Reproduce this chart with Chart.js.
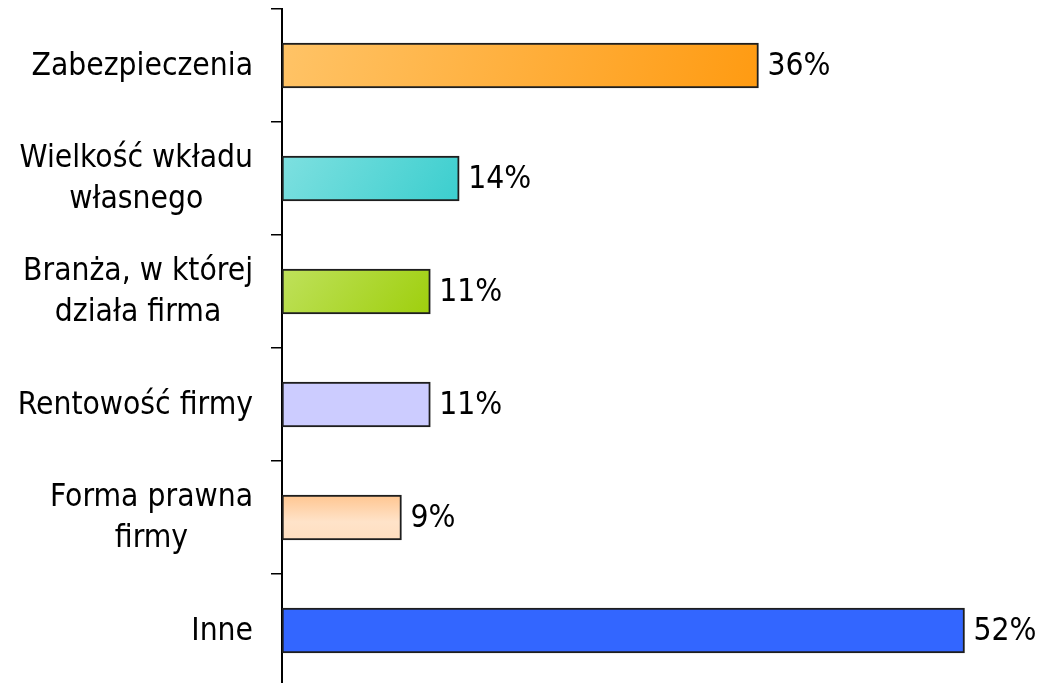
<!DOCTYPE html>
<html>
<head>
<meta charset="utf-8">
<script src="https://cdn.jsdelivr.net/npm/chart.js@4"></script>
<style>
  html, body { margin: 0; padding: 0; background: #fff; overflow: hidden; }
  #wrap { width: 1039px; height: 683px; overflow: hidden; }
</style>
</head>
<body>
<div id="wrap"><canvas id="barChart" width="1039" height="700"></canvas></div>
<script>
// categories (multi-line labels) and values
const categories = [
  ["Zabezpieczenia"],
  ["Wielkość wkładu", "własnego"],
  ["Branża, w której", "działa firma"],
  ["Rentowość firmy"],
  ["Forma prawna", "firmy"],
  ["Inne"]
];
const values = [36.3, 13.5, 11.3, 11.3, 9.1, 52.0];

// fill per bar: [from, to] for diagonal gradients, or a single colour
const barFills = [
  ["#FFC468", "#FF9A10"],
  ["#86E2E2", "#33CCCC"],
  ["#C4E468", "#99CC00"],
  "#CCCCFF",
  "peach",
  "#3366FF"
];

const FONT = "'DejaVu Sans Condensed', 'DejaVu Sans'";
const FONT_SIZE = 31.5;

// Helper: build the gradient for one bar from the scales
function barFill(context) {
  const chart = context.chart;
  const fill = barFills[context.dataIndex];
  if (typeof fill === "string" && fill !== "peach") return fill;
  const { x, y } = chart.scales;
  if (!x || !y || !chart.chartArea) return "#ccc";
  const i = context.dataIndex;
  const x0 = x.getPixelForValue(0);
  const x1 = x.getPixelForValue(values[i]);
  const yc = y.getPixelForValue(i);
  const c = chart.ctx;
  if (fill === "peach") {
    const g = c.createLinearGradient(0, yc - 22, 0, yc + 22);
    g.addColorStop(0, "#FFC691");
    g.addColorStop(0.6, "#FFE3C9");
    g.addColorStop(1, "#FFDEC0");
    return g;
  }
  const g = c.createLinearGradient(x0, yc - 60, x1, yc + 60);
  g.addColorStop(0, fill[0]);
  g.addColorStop(1, fill[1]);
  return g;
}

// draws category labels (right-aligned block, lines centred) and value labels
const labelPlugin = {
  id: "labels",
  afterDatasetsDraw(chart) {
    const c = chart.ctx;
    const y = chart.scales.y;
    const x = chart.scales.x;
    const lineH = 41;
    c.save();
    c.font = FONT_SIZE + "px " + FONT;
    c.fillStyle = "#000";
    c.textBaseline = "middle";
    c.textAlign = "center";
    const right = y.right - 29;
    categories.forEach((lines, i) => {
      const yc = y.getPixelForValue(i);
      const w = Math.max(...lines.map((l) => c.measureText(l).width));
      const cx = right - w / 2;
      lines.forEach((l, j) => {
        c.fillText(l, cx, yc + (j - (lines.length - 1) / 2) * lineH + 1);
      });
    });
    c.textAlign = "left";
    values.forEach((v, i) => {
      c.fillText(Math.round(v) + "%", x.getPixelForValue(v) + 9, y.getPixelForValue(i) + 1);
    });
    c.restore();
  }
};

new Chart(document.getElementById("barChart"), {
  type: "bar",
  data: {
    labels: categories,
    datasets: [{
      data: values,
      backgroundColor: barFill,
      borderColor: "#1e1e1e",
      borderWidth: 2,
      borderSkipped: false,
      barThickness: 45
    }]
  },
  plugins: [labelPlugin],
  options: {
    indexAxis: "y",
    responsive: false,
    animation: false,
    layout: { padding: { top: 9, bottom: 13, left: 0, right: 22 } },
    plugins: {
      legend: { display: false },
      tooltip: { enabled: false }
    },
    scales: {
      x: { display: false, min: 0, max: 56 },
      y: {
        afterFit: (s) => { s.width = 282; },
        ticks: { display: false },
        grid: {
          offset: true,
          drawOnChartArea: false,
          drawTicks: true,
          tickLength: 11,
          color: "#000",
          lineWidth: 1.5
        },
        border: { display: true, color: "#000", width: 2 }
      }
    }
  }
});
</script>
</body>
</html>
